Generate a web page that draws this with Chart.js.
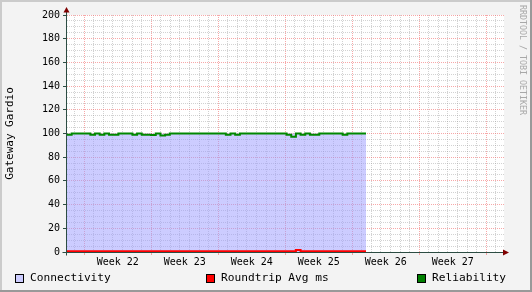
<!DOCTYPE html>
<html>
<head>
<meta charset="utf-8">
<script src="https://cdn.jsdelivr.net/npm/chart.js@4.4.1/dist/chart.umd.min.js"></script>
<style>
  body { margin: 0; background: #f3f3f3; }
  #wrap { position: relative; width: 532px; height: 292px; }
  #legend { position: absolute; left: 0; top: 271px; width: 532px; height: 14px;
    font: 11.2px "DejaVu Sans Mono", monospace; color: #000; line-height: 14px; }
  .item { position: absolute; top: 0; white-space: pre; }
  .box { position: absolute; top: 3px; width: 7px; height: 7px; border: 1px solid #000; }
</style>
</head>
<body>
<div id="wrap">
  <canvas id="chart" width="532" height="292"></canvas>
  <div id="legend"></div>
</div>
<script>
// Zeitachse in Kalenderwochen (Dezimal), Daten laufen bis dataEnd.
const xStart = 21.742;
const xEnd = 28.265;
const dataEnd = 26.205;
const weekNumbers = [22, 23, 24, 25, 26, 27];
const yTitle = "Gateway Gardio";
const watermark = "RRDTOOL / TOBI OETIKER";

const seriesNames = ["Connectivity", "Roundtrip Avg ms", "Reliability"];
const seriesColors = ["#ccccff", "#ff0000", "#008000"];
const legendLeft = [15, 206, 417];

const connectivity = [
  100, 100, 100, 100, 100, 100, 100, 100, 100, 100,
  100, 100, 100, 100, 100, 100, 100, 100, 100, 100,
  100, 100, 100, 100, 100, 100, 100, 100, 100, 100,
  100, 100, 100, 100, 100, 100, 100, 100, 100, 100,
  100, 100, 100, 100, 100, 100, 100, 100, 100, 100,
  100, 100, 100, 100, 100, 100, 100, 100, 100, 100,
  100, 100, 100, 100, 100
];
const roundtrip = [
  0.7, 0.7, 0.7, 0.7, 0.7, 0.7, 0.7, 0.7, 0.7, 0.7,
  0.7, 0.7, 0.7, 0.7, 0.7, 0.7, 0.7, 0.7, 0.7, 0.7,
  0.7, 0.7, 0.7, 0.7, 0.7, 0.7, 0.7, 0.7, 0.7, 0.7,
  0.7, 0.7, 0.7, 0.7, 0.7, 0.7, 0.7, 0.7, 0.7, 0.7,
  0.7, 0.7, 0.7, 0.7, 0.7, 0.7, 0.7, 0.7, 0.7, 0.7,
  1.6, 0.7, 0.7, 0.7, 0.7, 0.7, 0.7, 0.7, 0.7, 0.7,
  0.7, 0.7, 0.7, 0.7, 0.7
];
const reliability = [
  100, 99, 100, 100, 100, 100, 99, 100, 99, 100,
  99, 99, 100, 100, 100, 99, 100, 99, 99, 98.8,
  100, 98.3, 99, 100, 100, 100, 100, 100, 100, 100,
  100, 100, 100, 100, 100, 99, 100, 99, 100, 100,
  100, 100, 100, 100, 100, 100, 100, 100, 99, 97.3,
  100, 99, 100, 99, 99, 100, 100, 100, 100, 100,
  99, 100, 100, 100, 100
];

const xs = connectivity.map((_, i) => xStart + i * (dataEnd - xStart) / (connectivity.length - 1));
const pts = arr => arr.map((v, i) => ({x: xs[i], y: v}));

const minorGrid = "rgba(143,143,143,0.4)";
const majorGrid = "rgba(240,96,96,0.55)";
const mono = "DejaVu Sans Mono";

// Rahmen, Achsen mit Pfeilen und Wasserzeichen im RRDtool-Stil.
const rrdFrame = {
  id: "rrdFrame",
  beforeDraw(chart) {
    const c = chart.ctx, a = chart.chartArea, w = chart.width, h = chart.height;
    c.save();
    c.fillStyle = "#f3f3f3"; c.fillRect(0, 0, w, h);
    c.fillStyle = "#cbcbcb"; c.fillRect(0, 0, w, 2); c.fillRect(0, 0, 2, h);
    c.fillStyle = "#999999"; c.fillRect(0, h - 2, w, 2); c.fillRect(w - 2, 0, 2, h);
    c.fillStyle = "#ffffff"; c.fillRect(a.left, a.top, a.right - a.left, a.bottom - a.top);
    c.restore();
  },
  afterDraw(chart) {
    const c = chart.ctx, a = chart.chartArea;
    const x0 = Math.round(a.left) - 0.5, y0 = Math.round(a.bottom) + 0.5;
    c.save();
    c.strokeStyle = "#2c4d43"; c.lineWidth = 1;
    c.beginPath();
    c.moveTo(x0, y0 + 3); c.lineTo(x0, a.top - 3);
    c.moveTo(x0 - 4, y0); c.lineTo(a.right - 1, y0);
    c.stroke();
    c.fillStyle = "#7f0000";
    c.beginPath();
    c.moveTo(x0, a.top - 8); c.lineTo(x0 - 3, a.top - 2.5); c.lineTo(x0 + 3, a.top - 2.5); c.closePath();
    c.fill();
    c.beginPath();
    c.moveTo(a.right + 5, y0); c.lineTo(a.right - 1, y0 - 3); c.lineTo(a.right - 1, y0 + 3); c.closePath();
    c.fill();
    c.translate(522, 5);
    c.rotate(Math.PI / 2);
    c.font = "8.3px '" + mono + "'";
    c.fillStyle = "#a8a8a8";
    c.textBaseline = "middle";
    c.fillText(watermark, 0, 0);
    c.restore();
  }
};

new Chart(document.getElementById("chart"), {
  type: "line",
  data: {
    datasets: [
      {label: seriesNames[0], data: pts(connectivity), stepped: "after", fill: "origin",
       backgroundColor: "rgba(153,153,255,0.5)", borderColor: "transparent", borderWidth: 0,
       pointRadius: 0, order: 3},
      {label: seriesNames[1], data: pts(roundtrip), stepped: "after", fill: false,
       borderColor: seriesColors[1], borderWidth: 2, pointRadius: 0, order: 2},
      {label: seriesNames[2], data: pts(reliability), stepped: "after", fill: false,
       borderColor: "#008800", borderWidth: 2, pointRadius: 0, order: 1}
    ]
  },
  options: {
    responsive: false,
    animation: false,
    parsing: true,
    layout: {padding: {left: 0, top: 15, right: 28, bottom: 20}},
    plugins: {legend: {display: false}, tooltip: {enabled: false}},
    scales: {
      x: {
        type: "linear", min: xStart, max: xEnd,
        afterBuildTicks: s => {
          const t = [];
          for (let n = Math.ceil(xStart * 14); n <= Math.floor(xEnd * 14); n++) t.push({value: n / 14});
          s.ticks = t;
        },
        afterFit: s => { s.height = 20; },
        grid: {
          lineWidth: 1, tickLength: 3,
          color: c => {
            if (!c.tick) return minorGrid;
            const n = Math.round(c.tick.value * 14);
            return n % 14 === 0 ? majorGrid : (n % 2 === 0 ? minorGrid : "transparent");
          },
          tickColor: c => (c.tick && Math.round(c.tick.value * 14) % 14 === 0) ? majorGrid : "transparent"
        },
        border: {display: false, dash: [1, 1]},
        ticks: {
          autoSkip: false, maxRotation: 0, padding: 1, color: "#000",
          font: {family: mono, size: 10},
          callback: v => {
            const n = Math.round(v * 14);
            const wk = Math.floor(v);
            return n % 14 === 7 && weekNumbers.includes(wk) ? "Week " + wk : "";
          }
        }
      },
      y: {
        min: 0, max: 200,
        afterBuildTicks: s => {
          const t = [];
          for (let v = 0; v <= 200; v += 5) t.push({value: v});
          s.ticks = t;
        },
        afterFit: s => { s.width = 67; },
        grid: {
          lineWidth: 1, tickLength: 4,
          color: c => (c.tick && c.tick.value % 20 === 0) ? majorGrid : minorGrid,
          tickColor: c => (c.tick && c.tick.value % 20 === 0) ? "#2c4d43" : "transparent"
        },
        border: {display: false, dash: [1, 1]},
        ticks: {
          autoSkip: false, padding: 3, color: "#000",
          font: {family: mono, size: 10},
          callback: v => v % 20 === 0 ? String(v) : ""
        },
        title: {display: true, text: yTitle, color: "#000",
          font: {family: mono, size: 11}, padding: {top: 4, bottom: 0}}
      }
    }
  },
  plugins: [rrdFrame]
});

const legend = document.getElementById("legend");
seriesNames.forEach((name, i) => {
  const item = document.createElement("div");
  item.className = "item";
  item.style.left = legendLeft[i] + "px";
  item.innerHTML = '<span class="box" style="left:0;background:' + seriesColors[i] + '"></span>' +
    '<span style="position:absolute;left:15px">' + name + '</span>';
  legend.appendChild(item);
});
</script>
</body>
</html>
